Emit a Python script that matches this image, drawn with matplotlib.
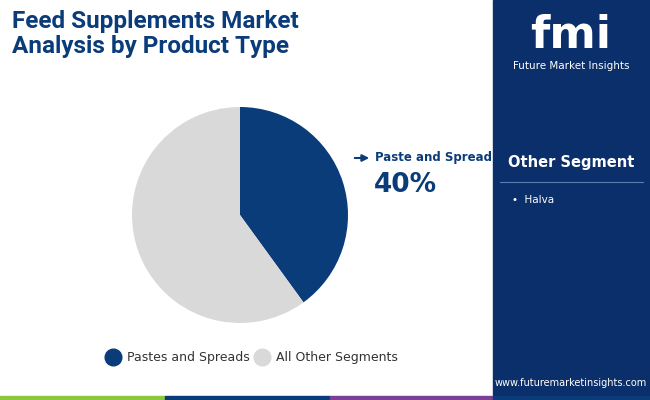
import matplotlib.pyplot as plt
from matplotlib.patches import Rectangle

# data
segments = ['Pastes and Spreads', 'All Other Segments']
shares = [40, 60]
colors = ['#0b3c7a', '#d9d9d9']
other_items = ['Halva']

W, H = 650, 400
fig = plt.figure(figsize=(6.5, 4), dpi=100)
fig.patch.set_facecolor('white')

def fx(x): return x / W
def fy(y): return 1 - y / H

# right panel
fig.patches.append(Rectangle((fx(493), 0), 1 - fx(493), 1, transform=fig.transFigure,
                             color='#0b2f6b', zorder=0))
# bottom strip
strip = [('#8dc63f', 0, 165), ('#0b3c7a', 165, 330), ('#7b3f98', 330, 493), ('#0b3c7a', 493, 650)]
for c, a, b in strip:
    fig.patches.append(Rectangle((fx(a), 0), fx(b - a), 4 / H, transform=fig.transFigure, color=c))

fig.text(fx(12), fy(34), 'Feed Supplements Market\nAnalysis by Product Type', fontsize=17.5,
         fontweight='bold', color='#0b3c7a', va='center', ha='left', linespacing=1.15, family='Roboto')

# pie
ax = fig.add_axes([fx(132), fy(323), fx(216), 216 / H])
ax.pie(shares, colors=colors, startangle=90, counterclock=False, radius=1)
ax.set_xlim(-1, 1)
ax.set_ylim(-1, 1)
ax.set_aspect('equal')

ax.annotate('', xy=(fx(372), fy(158)), xytext=(fx(352), fy(158)), xycoords='figure fraction',
            arrowprops=dict(arrowstyle='-|>', color='#0b3c7a', lw=1.5))
fig.text(fx(375), fy(158), 'Paste and Spread', fontsize=8.5, fontweight='bold', color='#0b3c7a', va='center')
fig.text(fx(374), fy(185), f'{shares[0]}%', fontsize=19, fontweight='bold', color='#0b3c7a', va='center')

# legend
lx = [113, 262]
for x, lab, c in zip(lx, segments, colors):
    fig.lines.append(plt.Line2D([fx(x)], [fy(357)], transform=fig.transFigure, marker='o',
                                markersize=12, color=c, linestyle='none'))
    fig.text(fx(x + 14), fy(357), lab, fontsize=9, color='#333333', va='center')

# right panel texts
fig.text(fx(571), fy(35), 'fmi', fontsize=32, fontweight='bold', color='white', ha='center', va='center')
fig.text(fx(571), fy(66), 'Future Market Insights', fontsize=7.5, color='white', ha='center', va='center')
fig.text(fx(571), fy(163), 'Other Segment', fontsize=10.5, fontweight='bold', color='white', ha='center', va='center')
fig.lines.append(plt.Line2D([fx(500), fx(643)], [fy(182), fy(182)], transform=fig.transFigure,
                            color='#5a7ab0', lw=0.8))
for i, item in enumerate(other_items):
    fig.text(fx(512), fy(200 + 18 * i), '•  ' + item, fontsize=7.5, color='white', va='center')
fig.text(fx(571), fy(383), 'www.futuremarketinsights.com', fontsize=7, color='white', ha='center', va='center')

fig.savefig('out.png', dpi=100)
